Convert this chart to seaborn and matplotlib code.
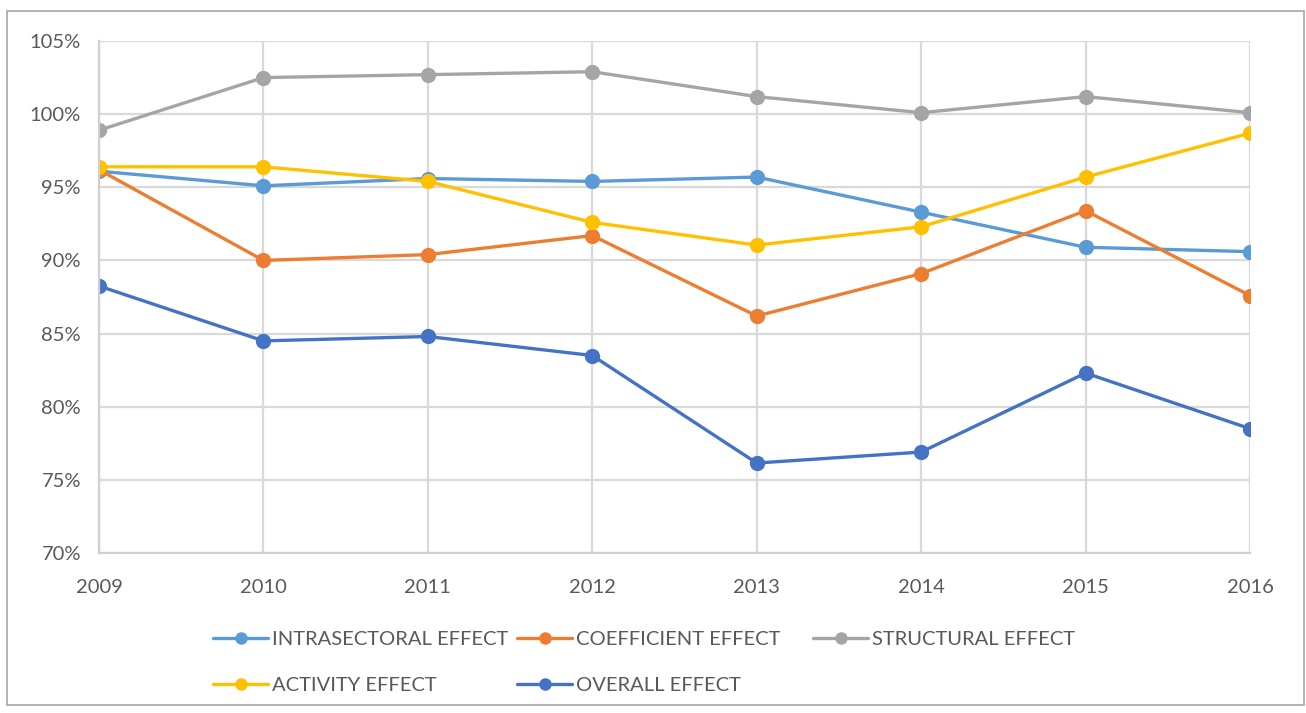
import matplotlib
matplotlib.use("Agg")
import matplotlib.pyplot as plt
from matplotlib.patches import Rectangle
from matplotlib.ticker import FuncFormatter
import pandas as pd
import seaborn as sns

years = [2009, 2010, 2011, 2012, 2013, 2014, 2015, 2016]
intrasectoral = [96.1, 95.1, 95.6, 95.4, 95.7, 93.3, 90.9, 90.6]
coefficient = [96.2, 90.0, 90.4, 91.7, 86.2, 89.1, 93.4, 87.6]
structural = [98.9, 102.5, 102.7, 102.9, 101.2, 100.1, 101.2, 100.1]
activity = [96.4, 96.4, 95.4, 92.6, 91.05, 92.3, 95.7, 98.7]
overall = [88.25, 84.5, 84.8, 83.5, 76.15, 76.9, 82.3, 78.5]

series_names = ["INTRASECTORAL EFFECT", "COEFFICIENT EFFECT", "STRUCTURAL EFFECT",
                "ACTIVITY EFFECT", "OVERALL EFFECT"]
series_values = [intrasectoral, coefficient, structural, activity, overall]
colors = ["#5B9BD5", "#ED7D31", "#A5A5A5", "#FFC000", "#4472C4"]

frames = [pd.DataFrame({"year": years, "value": vals, "series": name})
          for name, vals in zip(series_names, series_values)]
df = pd.concat(frames, ignore_index=True)

sns.set_theme(style="white")
plt.rcParams["font.family"] = ["Lato", "DejaVu Sans"]
text_color = "#595959"
msize = 11
lw = 2.4

fig = plt.figure(figsize=(13.06, 7.13), dpi=100)
ax = fig.add_axes([99 / 1306, 1 - 553 / 713, (1250 - 99) / 1306, (553 - 41) / 713])

sns.lineplot(data=df, x="year", y="value", hue="series", hue_order=series_names,
             palette=colors, marker="o", markersize=msize, markeredgewidth=0,
             linewidth=lw, ax=ax, legend=False)

ax.set_xlim(2009, 2016)
ax.set_ylim(70, 105)
ax.set_xticks(years)
ax.set_yticks(range(70, 106, 5))
ax.yaxis.set_major_formatter(FuncFormatter(lambda v, p: f"{int(round(v))}%"))
ax.grid(True, color="#D9D9D9", linewidth=1.6)
ax.set_axisbelow(True)
for side in ["top", "right"]:
    ax.spines[side].set_visible(False)
for side in ["left", "bottom"]:
    ax.spines[side].set_color("#D0D0D0")
    ax.spines[side].set_linewidth(1.6)
ax.set_xlabel("")
ax.set_ylabel("")
ax.tick_params(axis="both", length=0, labelsize=14.5, colors=text_color)
ax.tick_params(axis="x", pad=19)
ax.tick_params(axis="y", pad=13)
for lbl in ax.get_yticklabels() + ax.get_xticklabels():
    lbl.set_color(text_color)

# Legend: three equal-width columns, filled row by row
handles = [plt.Line2D([], [], color=c, marker="o", markersize=msize - 2, markeredgewidth=0,
                      linewidth=lw) for c in colors]
columns = [([0, 3], 205), ([1, 4], 509), ([2], 805)]
for idx, x0 in columns:
    fig.legend([handles[i] for i in idx], [series_names[i] for i in idx],
               ncol=1, loc="upper left", bbox_to_anchor=(x0 / 1306, 1 - 623 / 713),
               frameon=False, fontsize=14.5, handlelength=2.75, handletextpad=0.2,
               labelspacing=1.45, labelcolor=text_color, borderaxespad=0)

fig.patches.append(Rectangle((7 / 1306, 1 - 705 / 713), (1304 - 7) / 1306, (705 - 11) / 713,
                             transform=fig.transFigure, fill=False,
                             edgecolor="#A6A6A6", linewidth=1.2))

fig.savefig("out.png", dpi=100, facecolor="white")
